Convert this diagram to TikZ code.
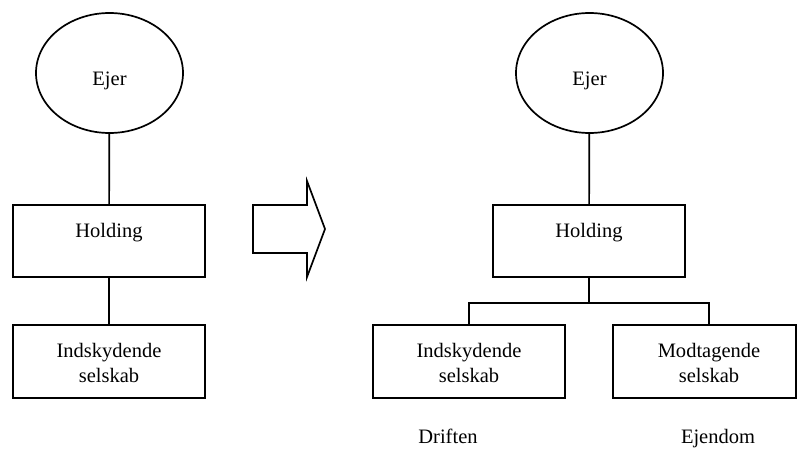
\documentclass[tikz,border=0pt]{standalone}
\usepackage{fontspec}
\setmainfont{Liberation Serif}
\usetikzlibrary{shapes.geometric}
\begin{document}
\begin{tikzpicture}[x=1pt, y=-1pt, line width=1.7pt,
  owner/.style={draw, ellipse, minimum width=147pt, minimum height=120pt, inner sep=0pt},
  firm/.style={draw, rectangle, inner sep=0pt, minimum width=192pt, minimum height=72pt},
  txt/.style={anchor=base, inner sep=0pt, font=\fontsize{20.5}{25}\selectfont}]
\useasboundingbox (0,0) rectangle (797,453);

% before: owner -> holding -> contributing company
\node[owner] (ejerL) at (109.5,73) {};
\node[txt] (ejerLt) at (109.5,85) {Ejer};
\node[firm] (holdL) at (109,241) {};
\node[txt] (holdLt) at (109,237) {Holding};
\node[firm, minimum height=73pt] (indL) at (109,361.5) {};
\node[txt] (indLt1) at (109,357) {Indskydende};
\node[txt] (indLt2) at (109,382) {selskab};
\draw (ejerL) -- (holdL);
\draw (holdL) -- (indL);

% block arrow
\draw (253,205) -- (307,205) -- (307,181) -- (325,229) -- (307,277)
  -- (307,253) -- (253,253) -- cycle;

% after: holding with two subsidiaries
\node[owner] (ejerR) at (589.5,73) {};
\node[txt] (ejerRt) at (589.5,85) {Ejer};
\node[firm] (holdR) at (589,241) {};
\node[txt] (holdRt) at (589,237) {Holding};
\node[firm, minimum height=73pt] (indR) at (469,361.5) {};
\node[txt] (indRt1) at (469,357) {Indskydende};
\node[txt] (indRt2) at (469,382) {selskab};
\node[firm, minimum width=183pt, minimum height=73pt] (modR) at (704.5,361.5) {};
\node[txt] (modRt1) at (709,357) {Modtagende};
\node[txt] (modRt2) at (709,382) {selskab};
\node[txt] (drift) at (448,443) {Driften};
\node[txt] (ejend) at (718,443) {Ejendom};

\coordinate (jn) at (589,303);
\coordinate (jnR) at (709,303);
\coordinate (modtop) at (709,325);
\draw (ejerR) -- (holdR);
\draw (holdR.south) -- (jn);
\draw (indR.north) |- (jnR) -- (modtop);
\end{tikzpicture}
\end{document}
